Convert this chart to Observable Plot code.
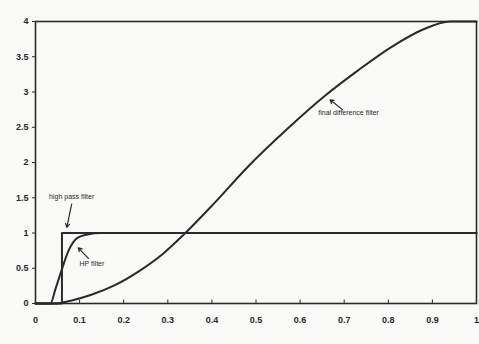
<!DOCTYPE html>
<html>
<head>
<meta charset="utf-8">
<script src="https://cdn.jsdelivr.net/npm/d3@7"></script>
<script src="https://cdn.jsdelivr.net/npm/@observablehq/plot@0.6"></script>
<style>
  html, body { margin: 0; padding: 0; background: #f9f9f7; }
  #chart svg { display: block; }
</style>
</head>
<body>
<div id="chart"></div>
<script>
// High pass filter (ideal step)
const hpIdealX = [0, 0.06, 0.06, 1];
const hpIdealY = [0, 0, 1, 1];

// HP filter (smooth)
const hpX = [0, 0.034, 0.045, 0.057, 0.075, 0.095, 0.118, 0.147, 1];
const hpY = [0, 0, 0.2, 0.43, 0.75, 0.93, 0.98, 1.0, 1.0];

// final difference filter
const fdX = [0, 0.045, 0.08, 0.125, 0.18, 0.235, 0.29, 0.335, 0.405, 0.48, 0.575, 0.655, 0.73, 0.805, 0.88, 0.94, 1];
const fdY = [0, 0, 0.04, 0.12, 0.26, 0.46, 0.71, 0.97, 1.42, 1.93, 2.5, 2.94, 3.3, 3.63, 3.89, 4.0, 4.0];

const xTicks = [0, 0.1, 0.2, 0.3, 0.4, 0.5, 0.6, 0.7, 0.8, 0.9, 1];
const xTickLabels = ["0", "0.1", "0.2", "0.3", "0.4", "0.5", "0.6", "0.7", "0.8", "0.9", "1"];
const yTicks = [0, 0.5, 1, 1.5, 2, 2.5, 3, 3.5, 4];
const yTickLabels = ["0", "0.5", "1", "1.5", "2", "2.5", "3", "3.5", "4"];

const labels = ["high pass filter", "HP filter", "final difference filter"];
const labelX = [0.082, 0.128, 0.71];
const labelY = [1.52, 0.57, 2.71];
const labelAnchor = ["middle", "start", "start"];
const arrowX1 = [0.082, 0.12, 0.696];
const arrowY1 = [1.41, 0.64, 2.75];
const arrowX2 = [0.071, 0.097, 0.668];
const arrowY2 = [1.08, 0.79, 2.89];

const zip = (xs, ys) => xs.map((x, i) => ({x, y: ys[i]}));
const ann = labels.map((t, i) => ({t, x: labelX[i], y: labelY[i], a: labelAnchor[i]}));
const arrows = arrowX1.map((x, i) => ({x1: x, y1: arrowY1[i], x2: arrowX2[i], y2: arrowY2[i]}));

const ink = "#2a2a2a";
const font = "'Liberation Sans Narrow', 'Liberation Sans', sans-serif";

const plot = Plot.plot({
  width: 479,
  height: 344,
  marginLeft: 35,
  marginRight: 3,
  marginTop: 21,
  marginBottom: 41,
  style: {background: "#f9f9f7", fontFamily: font, fontSize: "9px", fontWeight: "bold", color: ink},
  x: {domain: [0, 1]},
  y: {domain: [0, 4]},
  marks: [
    Plot.frame({stroke: ink, strokeWidth: 1.6}),
    Plot.axisX({ticks: xTicks, tickFormat: (d, i) => xTickLabels[i], tickSize: 0, tickPadding: 13, label: null, fill: ink}),
    Plot.axisY({ticks: yTicks, tickFormat: (d, i) => yTickLabels[i], tickSize: 3, tickPadding: 4, label: null, fill: ink, stroke: ink}),
    Plot.ruleX(xTicks, {y1: 0, y2: 0.05, stroke: ink, strokeWidth: 1}),
    Plot.line(zip(hpIdealX, hpIdealY), {x: "x", y: "y", stroke: ink, strokeWidth: 2}),
    Plot.line(zip(hpX, hpY), {x: "x", y: "y", stroke: ink, strokeWidth: 2, curve: "monotone-x"}),
    Plot.line(zip(fdX, fdY), {x: "x", y: "y", stroke: ink, strokeWidth: 2, curve: "monotone-x"}),
    Plot.arrow(arrows, {x1: "x1", y1: "y1", x2: "x2", y2: "y2", stroke: ink, strokeWidth: 1.2, headLength: 5}),
    Plot.text(ann, {x: "x", y: "y", text: "t", textAnchor: "a", fill: ink, fontSize: 7, fontWeight: "normal"})
  ]
});
document.getElementById("chart").appendChild(plot);
</script>
</body>
</html>
